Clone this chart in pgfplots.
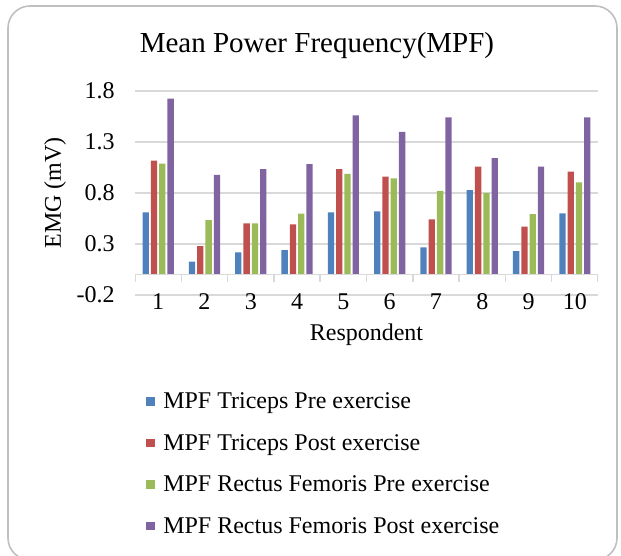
\documentclass[border=0pt]{standalone}
\usepackage{pgfplots}
\pgfplotsset{compat=1.18}
\usepackage{fontspec}
\setmainfont{Liberation Serif}
\definecolor{cblue}{HTML}{4F81BD}
\definecolor{cred}{HTML}{C0504D}
\definecolor{cgreen}{HTML}{9BBB59}
\definecolor{cpurple}{HTML}{8064A2}
\definecolor{gridc}{HTML}{D9D9D9}
\definecolor{framec}{HTML}{BFBFBF}
\begin{document}
\begin{tikzpicture}
\path[use as bounding box] (0,0) rectangle (310.5pt,278pt);
\draw[framec, line width=0.8pt, rounded corners=11pt] (4pt,-2pt) rectangle (308.5pt,275pt);
\begin{axis}[
  at={(67.5pt,130.5pt)}, anchor=south west,
  scale only axis, width=231.5pt, height=102pt,
  xmin=0.5, xmax=10.5, ymin=-0.2, ymax=1.8,
  ybar=1pt, bar width=3.15pt,
  axis line style={draw=none},
  xtick={1,2,3,4,5,6,7,8,9,10},
  xticklabels={1,2,3,4,5,6,7,8,9,10},
  ytick={-0.2,0.3,0.8,1.3,1.8},
  yticklabels={-0.2,0.3,0.8,1.3,1.8},
  major tick length=0pt,
  ymajorgrids, grid style={gridc, line width=0.75pt},
  ticklabel style={font=\fontsize{12}{14}\selectfont},
  xticklabel style={anchor=base, yshift=-7.5pt},
  yticklabel style={anchor=east, inner sep=0pt, xshift=-10pt},
  title={Mean Power Frequency(MPF)},
  title style={at={(axis description cs:0.393,1.19)}, anchor=base, yshift=-6pt, font=\fontsize{14.5}{17}\selectfont},
  xlabel={Respondent},
  xlabel style={at={(axis description cs:0.5,-0.2206)}, anchor=base, font=\fontsize{12}{14}\selectfont},
  ylabel={EMG (mV)},
  ylabel style={at={(axis description cs:-0.1728,0.5)}, rotate=0, anchor=center, font=\fontsize{12}{14}\selectfont},
  legend style={at={(axis description cs:0.0235,-0.448)}, anchor=north west, draw=none, fill=none,
    inner sep=0pt, row sep=4.75pt, font=\fontsize{12}{14}\selectfont,
    nodes={text height=9pt, text depth=3pt, inner sep=2pt}},
  legend cell align=left,
  legend image code/.code={\fill[#1] (0pt,-1.5pt) rectangle (4.2pt,2.7pt); \path (6.5pt,0pt);},
]
\addplot[fill=cblue, draw=none] coordinates {(1,0.611) (2,0.127) (3,0.219) (4,0.239) (5,0.611) (6,0.621) (7,0.268) (8,0.827) (9,0.229) (10,0.601)};
\addplot[fill=cred, draw=none] coordinates {(1,1.118) (2,0.278) (3,0.503) (4,0.493) (5,1.033) (6,0.961) (7,0.542) (8,1.059) (9,0.471) (10,1.010)};
\addplot[fill=cgreen, draw=none] coordinates {(1,1.088) (2,0.533) (3,0.503) (4,0.598) (5,0.987) (6,0.944) (7,0.820) (8,0.801) (9,0.592) (10,0.905)};
\addplot[fill=cpurple, draw=none] coordinates {(1,1.725) (2,0.977) (3,1.033) (4,1.082) (5,1.562) (6,1.399) (7,1.542) (8,1.141) (9,1.059) (10,1.542)};
\legend{MPF Triceps Pre exercise, MPF Triceps Post exercise, MPF Rectus Femoris Pre exercise, MPF Rectus Femoris Post exercise}
\draw[gridc, line width=0.75pt] (axis cs:0.5,0) -- (axis cs:10.5,0);
\pgfplotsinvokeforeach{0.5,1.5,2.5,3.5,4.5,5.5,6.5,7.5,8.5,9.5,10.5}{\draw[gridc, line width=0.75pt] (axis cs:#1,0) -- (axis cs:#1,-0.07);}
\end{axis}
\end{tikzpicture}
\end{document}
